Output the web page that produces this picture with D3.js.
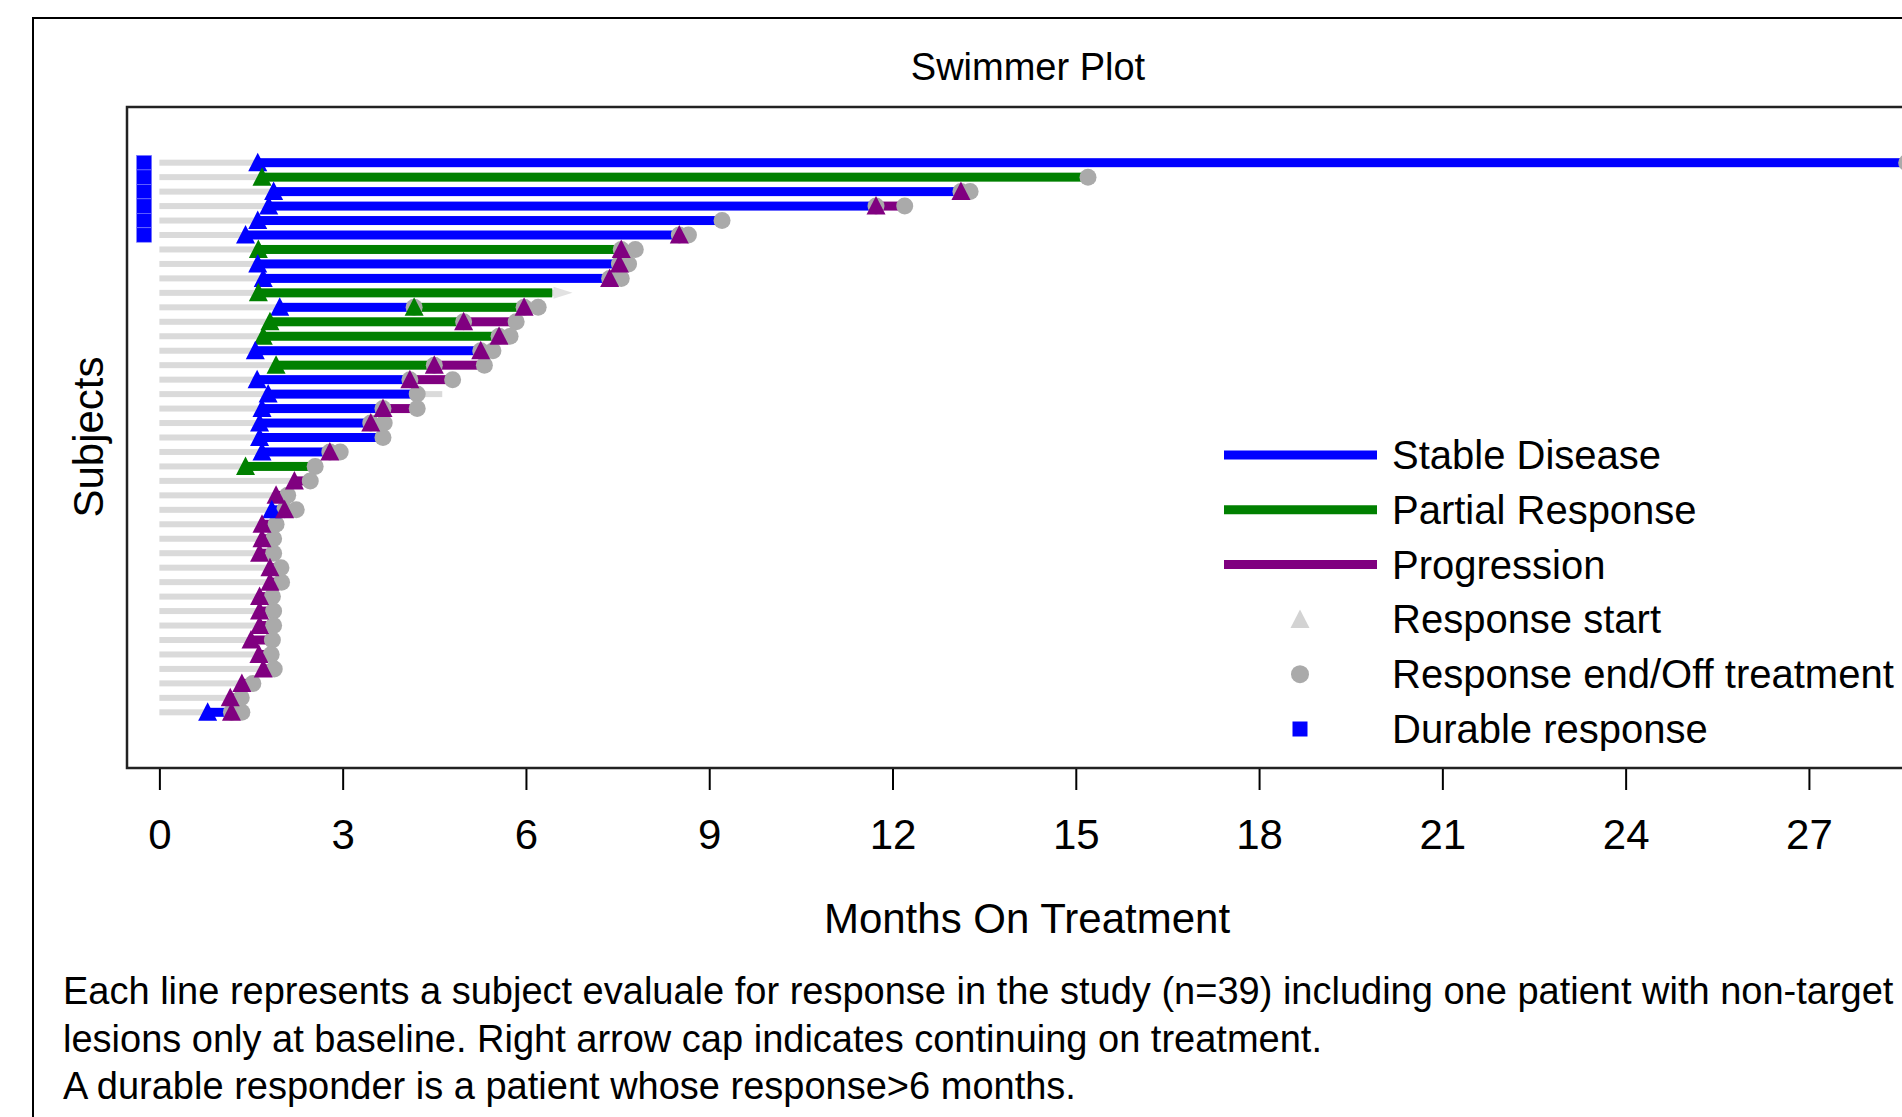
<!DOCTYPE html>
<html>
<head>
<meta charset="utf-8">
<title>Swimmer Plot</title>
<script src="https://cdn.jsdelivr.net/npm/d3@7/dist/d3.min.js"></script>
<style>
	body { margin: 0; overflow: hidden; background: #fff; }
	svg { display: block; font-family: "Liberation Sans", Arial, sans-serif; }
</style>
</head>
<body>
<svg id="fig-swimmer" width="2050" height="1140"></svg>
<script>

// subjects, top to bottom
const subjects = d3.range(1, 40);

// end of treatment (gray bar), months
const treatmentEnd = [28.6, 15.2, 13.27, 12.2, 9.21, 8.66, 7.79, 7.68, 7.56, 6.5,
	6.2, 5.84, 5.74, 5.46, 5.32, 4.8, 4.63, 4.22, 3.68, 3.66,
	2.96, 2.55, 2.47, 2.1, 2.24, 1.91, 1.87, 1.87, 1.99, 2.0,
	1.85, 1.87, 1.87, 1.85, 1.83, 1.88, 1.53, 1.34, 1.35];

// subjects still on treatment (arrow cap)
const continuing = [10];

// durable responders (response > 6 months)
const durable = [1, 2, 3, 4, 5, 6];

// response segments: [subject, start, end, status]
const segments = [
	[1, 1.61, 28.6, "SD"],
	[2, 1.68, 15.2, "PR"],
	[3, 1.87, 13.12, "SD"], [3, 13.12, 13.27, "PD"],
	[4, 1.79, 11.73, "SD"], [4, 11.73, 12.2, "PD"],
	[5, 1.61, 9.21, "SD"],
	[6, 1.41, 8.51, "SD"], [6, 8.51, 8.66, "PD"],
	[7, 1.62, 7.56, "PR"], [7, 7.56, 7.79, "PD"],
	[8, 1.61, 7.53, "SD"], [8, 7.53, 7.68, "PD"],
	[9, 1.70, 7.37, "SD"], [9, 7.37, 7.56, "PD"],
	[10, 1.62, 6.43, "PR"],
	[11, 1.97, 4.17, "SD"], [11, 4.17, 5.97, "PR"], [11, 5.97, 6.2, "PD"],
	[12, 1.81, 4.98, "PR"], [12, 4.98, 5.84, "PD"],
	[13, 1.70, 5.56, "PR"], [13, 5.56, 5.74, "PD"],
	[14, 1.57, 5.26, "SD"], [14, 5.26, 5.46, "PD"],
	[15, 1.91, 4.5, "PR"], [15, 4.5, 5.32, "PD"],
	[16, 1.6, 4.1, "SD"], [16, 4.1, 4.8, "PD"],
	[17, 1.78, 4.22, "SD"],
	[18, 1.68, 3.66, "SD"], [18, 3.66, 4.22, "PD"],
	[19, 1.64, 3.46, "SD"], [19, 3.46, 3.68, "PD"],
	[20, 1.64, 3.66, "SD"],
	[21, 1.68, 2.79, "SD"], [21, 2.79, 2.96, "PD"],
	[22, 1.41, 2.55, "PR"],
	[23, 2.21, 2.47, "PD"],
	[24, 1.91, 2.1, "PD"],
	[25, 1.84, 2.05, "SD"], [25, 2.05, 2.24, "PD"],
	[26, 1.68, 1.91, "PD"],
	[27, 1.68, 1.87, "PD"],
	[28, 1.64, 1.87, "PD"],
	[29, 1.81, 1.99, "PD"],
	[30, 1.81, 2.0, "PD"],
	[31, 1.64, 1.85, "PD"],
	[32, 1.64, 1.87, "PD"],
	[33, 1.64, 1.87, "PD"],
	[34, 1.5, 1.85, "PD"],
	[35, 1.63, 1.83, "PD"],
	[36, 1.70, 1.88, "PD"],
	[37, 1.35, 1.53, "PD"],
	[38, 1.16, 1.34, "PD"],
	[39, 0.79, 1.18, "SD"], [39, 1.18, 1.35, "PD"]
];

const statusKeys = ["SD", "PR", "PD"];
const statusLabels = ["Stable Disease", "Partial Response", "Progression"];
const markerLabels = ["Response start", "Response end/Off treatment", "Durable response"];
const xTicks = [0, 3, 6, 9, 12, 15, 18, 21, 24, 27];

const footnotes = [
	"Each line represents a subject evaluale for response in the study (n=39) including one patient with non-target",
	"lesions only at baseline. Right arrow cap indicates continuing on treatment.",
	"A durable responder is a patient whose response>6 months."
];

function whenDocumentLoaded(action) {
	if (document.readyState === "loading") {
		document.addEventListener("DOMContentLoaded", action);
	} else {
		action();
	}
}

whenDocumentLoaded(() => {
	const svg = d3.select("#fig-swimmer");

	// plot area (the picture is cropped on the right)
	const left = 127, right = 1925, top = 107, bottom = 768;

	const x = d3.scaleLinear().domain([-0.53, 28.9]).range([left, right]);
	const y = d3.scalePoint().domain(subjects).range([top, bottom]).padding(3.85);
	const color = d3.scaleOrdinal().domain(statusKeys).range(["#0000ff", "#008000", "#800080"]);

	const triPath = "M0,-10L9.5,8.5L-9.5,8.5Z";

	// outer border
	svg.append("rect")
		.attr("x", 33).attr("y", 18)
		.attr("width", 1988).attr("height", 1130)
		.attr("fill", "none").attr("stroke", "#000").attr("stroke-width", 2);

	svg.append("text")
		.attr("x", 1028).attr("y", 80)
		.attr("text-anchor", "middle")
		.style("font-size", "38px")
		.text("Swimmer Plot");

	const plot = svg.append("g");

	// treatment duration bars
	plot.selectAll("rect.dur")
		.data(subjects)
		.join("rect")
		.attr("class", "dur")
		.attr("x", x(0))
		.attr("y", d => y(d) - 3)
		.attr("width", (d, i) => x(treatmentEnd[i]) - x(0))
		.attr("height", 6)
		.attr("fill", "#dadada");

	// arrow caps
	plot.selectAll("path.cap")
		.data(continuing)
		.join("path")
		.attr("class", "cap")
		.attr("fill", "#e2e2e2")
		.attr("d", d => {
			const xe = x(treatmentEnd[d - 1]), yc = y(d);
			return `M${xe - 3},${yc - 6}L${xe + 16},${yc}L${xe - 3},${yc + 6}Z`;
		});

	// response segments
	plot.selectAll("rect.seg")
		.data(segments)
		.join("rect")
		.attr("class", "seg")
		.attr("x", d => x(d[1]))
		.attr("y", d => y(d[0]) - 4.5)
		.attr("width", d => x(d[2]) - x(d[1]))
		.attr("height", 9)
		.attr("fill", d => color(d[3]));

	// response end / off treatment markers
	const ends = segments.filter(d => !(continuing.includes(d[0]) &&
		d[2] === d3.max(segments.filter(s => s[0] === d[0]), s => s[2])));
	plot.selectAll("circle.end")
		.data(ends)
		.join("circle")
		.attr("class", "end")
		.attr("cx", d => x(d[2]))
		.attr("cy", d => y(d[0]))
		.attr("r", 8.5)
		.attr("fill", "#aaaaaa");

	// response start markers
	plot.selectAll("path.start")
		.data(segments)
		.join("path")
		.attr("class", "start")
		.attr("transform", d => `translate(${x(d[1])},${y(d[0])})`)
		.attr("d", triPath)
		.attr("fill", d => color(d[3]));

	// durable responders
	plot.selectAll("rect.durable")
		.data(durable)
		.join("rect")
		.attr("class", "durable")
		.attr("x", x(-0.25) - 7.5)
		.attr("y", d => y(d) - y.step() / 2)
		.attr("width", 15)
		.attr("height", y.step())
		.attr("fill", "#0000ff")
		.attr("stroke", "#7a7aff")
		.attr("stroke-width", 0.6);

	// frame
	svg.append("rect")
		.attr("x", left).attr("y", top)
		.attr("width", right - left).attr("height", bottom - top)
		.attr("fill", "none").attr("stroke", "#222").attr("stroke-width", 2.5);

	// x axis
	const xAxis = svg.append("g")
		.attr("transform", `translate(0,${bottom + 1})`)
		.call(d3.axisBottom(x).tickValues(xTicks).tickSize(21).tickPadding(29));
	xAxis.select(".domain").remove();
	xAxis.selectAll(".tick line").attr("stroke", "#000").attr("stroke-width", 2);
	xAxis.selectAll(".tick text")
		.attr("fill", "#000")
		.style("font-size", "42px")
		.style("font-family", "\"Liberation Sans\", Arial, sans-serif");

	svg.append("text")
		.attr("x", 1027).attr("y", 933)
		.attr("text-anchor", "middle")
		.style("font-size", "42px")
		.text("Months On Treatment");

	svg.append("text")
		.attr("transform", "translate(103,437) rotate(-90)")
		.attr("text-anchor", "middle")
		.style("font-size", "42px")
		.text("Subjects");

	// legend
	const legend = svg.append("g").attr("transform", "translate(1224,455)");
	const rowGap = 54.8;
	statusKeys.forEach((k, i) => {
		legend.append("line")
			.attr("x1", 0).attr("x2", 153)
			.attr("y1", i * rowGap).attr("y2", i * rowGap)
			.attr("stroke", color(k)).attr("stroke-width", 9);
	});
	legend.append("path")
		.attr("transform", `translate(76,${3 * rowGap})`)
		.attr("d", triPath)
		.attr("fill", "#d3d3d3");
	legend.append("circle")
		.attr("cx", 76).attr("cy", 4 * rowGap)
		.attr("r", 9)
		.attr("fill", "#aaaaaa");
	legend.append("rect")
		.attr("x", 76 - 7.5).attr("y", 5 * rowGap - 7.5)
		.attr("width", 15).attr("height", 15)
		.attr("fill", "#0000ff");
	legend.selectAll("text")
		.data(statusLabels.concat(markerLabels))
		.join("text")
		.attr("x", 168)
		.attr("y", (d, i) => i * rowGap + 14)
		.style("font-size", "40px")
		.text(d => d);

	// footnotes
	svg.selectAll("text.note")
		.data(footnotes)
		.join("text")
		.attr("class", "note")
		.attr("x", 63)
		.attr("y", (d, i) => 1004 + i * 47.5)
		.style("font-size", "38px")
		.text(d => d);
});
</script>
</body>
</html>
